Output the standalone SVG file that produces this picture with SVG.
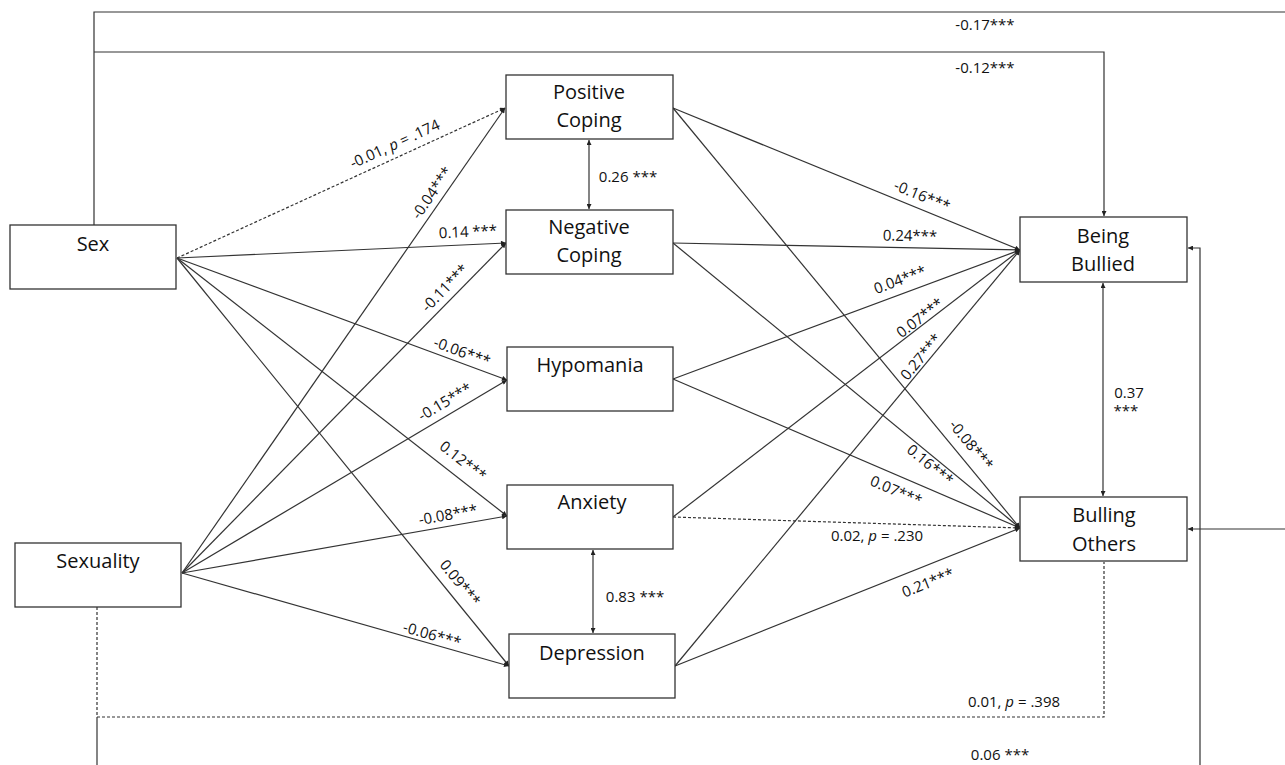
<svg xmlns="http://www.w3.org/2000/svg" width="1285" height="765" viewBox="0 0 1285 765">
<style>
.box{fill:#fff;stroke:#333;stroke-width:1.3}
.nt{font-family:"Open Sans","Liberation Sans",sans-serif;font-size:20px;fill:#111;text-anchor:middle}
.c{fill:none;stroke:#333;stroke-width:1.2}
.a{marker-end:url(#ah)}
.d{stroke-dasharray:3,2}
.b{marker-start:url(#ah);marker-end:url(#ah)}
.l{font-family:"Open Sans","Liberation Sans",sans-serif;font-size:15px;fill:#111;text-anchor:middle}
</style>
<defs>
<marker id="ah" viewBox="0 0 10 10" refX="10" refY="5" markerWidth="6" markerHeight="5" markerUnits="userSpaceOnUse" orient="auto-start-reverse">
<path d="M0,0 L10,5 L0,10 Z" fill="#222"/>
</marker>
</defs>
<g id="connectors">
<path class="c" d="M94,225 V12 H1285"/>
<path class="c a" d="M1285,529 H1188"/>
<path class="c a" d="M94,52 H1104 V216"/>
<path class="c d" d="M97,607 V717 H1104 V562"/>
<path class="c" d="M97,717 V765"/>
<path class="c a" d="M1200,765 V248 H1188"/>
<path class="c d a" d="M177,258 L505,108"/>
<path class="c a" d="M177,258 L506,243"/>
<path class="c a" d="M177,258 L507,380"/>
<path class="c a" d="M177,258 L507,516"/>
<path class="c a" d="M177,258 L509,666"/>
<path class="c a" d="M182,573 L505,108"/>
<path class="c a" d="M182,573 L506,243"/>
<path class="c a" d="M182,573 L507,380"/>
<path class="c a" d="M182,573 L507,516"/>
<path class="c a" d="M182,573 L509,666"/>
<path class="c a" d="M673,108 L1020,250"/>
<path class="c a" d="M673,243 L1020,250"/>
<path class="c a" d="M673,379 L1020,250"/>
<path class="c a" d="M673,517 L1020,250"/>
<path class="c a" d="M675,666 L1020,250"/>
<path class="c a" d="M673,108 L1020,528"/>
<path class="c a" d="M673,243 L1020,528"/>
<path class="c a" d="M673,379 L1020,528"/>
<path class="c d a" d="M673,517 L1020,528"/>
<path class="c a" d="M675,666 L1020,528"/>
<path class="c b" d="M589,140 V209"/>
<path class="c b" d="M593,550 V633"/>
<path class="c b" d="M1103,283 V496"/>
</g>
<g id="labels">
<text class="l" x="985" y="30">-0.17***</text>
<text class="l" x="985" y="73">-0.12***</text>
<text class="l" transform="rotate(-24.6 395 144)" x="395" y="149">-0.01, <tspan font-style="italic">p</tspan> = .174</text>
<text class="l" transform="rotate(-55.2 432 193)" x="432" y="198">-0.04***</text>
<text class="l" transform="rotate(-2.6 468 232)" x="468" y="237">0.14 ***</text>
<text class="l" transform="rotate(-45.6 445 288)" x="445" y="293">-0.11***</text>
<text class="l" transform="rotate(20.3 462 352)" x="462" y="357">-0.06***</text>
<text class="l" transform="rotate(-30.7 445 402)" x="445" y="407">-0.15***</text>
<text class="l" transform="rotate(38 463 461)" x="463" y="466">0.12***</text>
<text class="l" transform="rotate(-10 448 515)" x="448" y="520">-0.08***</text>
<text class="l" transform="rotate(50.9 460 583)" x="460" y="588">0.09***</text>
<text class="l" transform="rotate(15.9 432 635)" x="432" y="640">-0.06***</text>
<text class="l" x="628" y="182">0.26 ***</text>
<text class="l" x="635" y="602">0.83 ***</text>
<text class="l" x="1129" y="398">0.37</text>
<text class="l" x="1126" y="416">***</text>
<text class="l" transform="rotate(22.3 922 196)" x="922" y="201">-0.16***</text>
<text class="l" transform="rotate(1.2 910 236)" x="910" y="241">0.24***</text>
<text class="l" transform="rotate(-20.4 900 280)" x="900" y="285">0.04***</text>
<text class="l" transform="rotate(-37.6 920 318)" x="920" y="323">0.07***</text>
<text class="l" transform="rotate(-50.3 921 357)" x="921" y="362">0.27***</text>
<text class="l" transform="rotate(50.4 971 445)" x="971" y="450">-0.08***</text>
<text class="l" transform="rotate(39.4 930 465)" x="930" y="470">0.16***</text>
<text class="l" transform="rotate(23.2 896 491)" x="896" y="496">0.07***</text>
<text class="l" x="877" y="541">0.02, <tspan font-style="italic">p</tspan> = .230</text>
<text class="l" transform="rotate(-21.8 928 583)" x="928" y="588">0.21***</text>
<text class="l" x="1014" y="707">0.01, <tspan font-style="italic">p</tspan> = .398</text>
<text class="l" x="1000" y="760">0.06 ***</text>
</g>
<g id="sex"><rect class="box" x="10" y="225" width="166" height="64"/><text class="nt" x="93" y="251">Sex</text></g>
<g id="sexuality"><rect class="box" x="15" y="543" width="166" height="64"/><text class="nt" x="98" y="568">Sexuality</text></g>
<g id="positive-coping"><rect class="box" x="506" y="75" width="167" height="64"/><text class="nt" x="589" y="99">Positive</text><text class="nt" x="589" y="127">Coping</text></g>
<g id="negative-coping"><rect class="box" x="506" y="210" width="167" height="64"/><text class="nt" x="589" y="234">Negative</text><text class="nt" x="589" y="262">Coping</text></g>
<g id="hypomania"><rect class="box" x="507" y="347" width="166" height="64"/><text class="nt" x="590" y="372">Hypomania</text></g>
<g id="anxiety"><rect class="box" x="507" y="485" width="166" height="64"/><text class="nt" x="592" y="509">Anxiety</text></g>
<g id="depression"><rect class="box" x="509" y="634" width="166" height="64"/><text class="nt" x="592" y="660">Depression</text></g>
<g id="being-bullied"><rect class="box" x="1020" y="217" width="167" height="65"/><text class="nt" x="1103" y="243">Being</text><text class="nt" x="1103" y="271">Bullied</text></g>
<g id="bulling-others"><rect class="box" x="1020" y="497" width="167" height="64"/><text class="nt" x="1104" y="522">Bulling</text><text class="nt" x="1104" y="551">Others</text></g>
</svg>
